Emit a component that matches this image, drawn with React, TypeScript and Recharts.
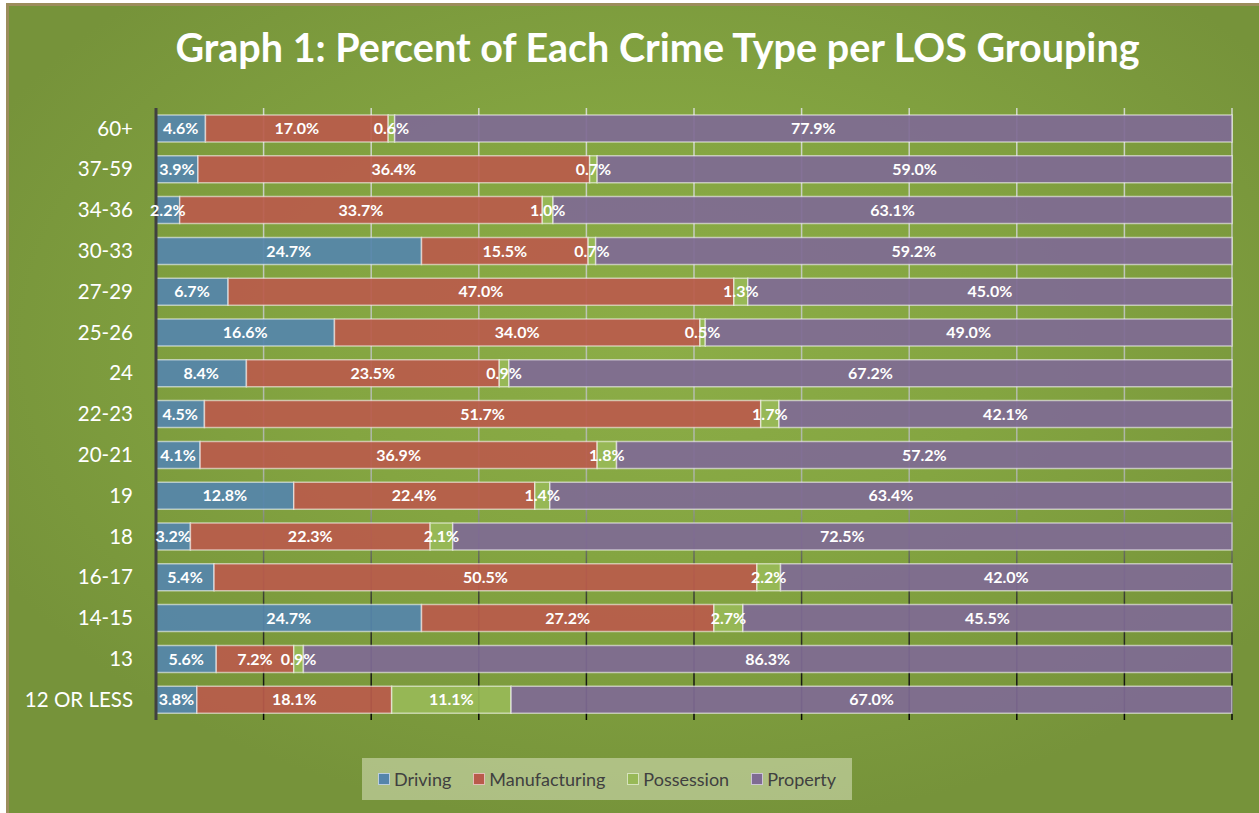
import { BarChart, Bar, XAxis, YAxis, CartesianGrid, Legend, LabelList } from "recharts";

const categories = ["60+", "37-59", "34-36", "30-33", "27-29", "25-26", "24", "22-23", "20-21", "19", "18", "16-17", "14-15", "13", "12 OR LESS"];
const driving = [4.6, 3.9, 2.2, 24.7, 6.7, 16.6, 8.4, 4.5, 4.1, 12.8, 3.2, 5.4, 24.7, 5.6, 3.8];
const manufacturing = [17.0, 36.4, 33.7, 15.5, 47.0, 34.0, 23.5, 51.7, 36.9, 22.4, 22.3, 50.5, 27.2, 7.2, 18.1];
const possession = [0.6, 0.7, 1.0, 0.7, 1.3, 0.5, 0.9, 1.7, 1.8, 1.4, 2.1, 2.2, 2.7, 0.9, 11.1];
const property = [77.9, 59.0, 63.1, 59.2, 45.0, 49.0, 67.2, 42.1, 57.2, 63.4, 72.5, 42.0, 45.5, 86.3, 67.0];
const xTicks = [0, 0.1, 0.2, 0.3, 0.4, 0.5, 0.6, 0.7, 0.8, 0.9, 1];

const series = [
    { key: "driving", name: "Driving", color: "#5585ab" },
    { key: "manufacturing", name: "Manufacturing", color: "#b95b4b" },
    { key: "possession", name: "Possession", color: "#98b957" },
    { key: "property", name: "Property", color: "#7f6b93" },
];

const data = categories.map((c, i) => ({
    cat: c,
    driving: driving[i],
    manufacturing: manufacturing[i],
    possession: possession[i],
    property: property[i],
}));

const FONT = "Lato, 'Open Sans', sans-serif";

const renderLabel = (props: any) => {
    const { x, y, width, height, value } = props;
    return (
        <text
            x={x + width / 2}
            y={y + height / 2}
            dy="0.36em"
            textAnchor="middle"
            fill="#ffffff"
            fontSize={16}
            fontWeight={700}
            fontFamily={FONT}
        >
            {Number(value).toFixed(1)}%
        </text>
    );
};

// grid lines at each 10% tick, placed through the x scale (or the plot offset as fallback)
const gridX = (props: any) => {
    const { xAxis, offset } = props;
    if (xAxis && typeof xAxis.scale === "function") {
        return xTicks.map((t) => xAxis.scale(t));
    }
    return xTicks.map((t) => offset.left + t * offset.width);
};

const renderLegend = () => (
    <div
        style={{
            width: 490,
            height: 42,
            background: "rgba(235,240,215,0.47)",
            display: "flex",
            alignItems: "center",
            justifyContent: "center",
            gap: 22,
            fontFamily: FONT,
            fontSize: 18,
            color: "#404040",
        }}
    >
        {series.map((s) => (
            <div key={s.key} style={{ display: "flex", alignItems: "center" }}>
                <span
                    style={{
                        display: "inline-block",
                        width: 10,
                        height: 10,
                        background: s.color,
                        border: "1px solid rgba(255,255,255,0.6)",
                        marginRight: 4,
                    }}
                />
                {s.name}
            </div>
        ))}
    </div>
);

export default function App() {
    return (
        <div
            style={{
                position: "fixed",
                left: 0,
                top: 0,
                width: 1259,
                height: 813,
                background: "#ffffff",
                overflow: "hidden",
            }}
        >
            <div
                style={{
                    position: "absolute",
                    left: 6,
                    top: 3,
                    width: 1253,
                    height: 810,
                    boxSizing: "border-box",
                    borderLeft: "3px solid #9c8d5c",
                    borderTop: "3px solid #9c8d5c",
                    background: "radial-gradient(ellipse 60% 60% at 52% 42%, #8cad47 0%, #84a541 45%, #76933a 100%)",
                }}
            />
            <div
                style={{
                    position: "absolute",
                    left: 0,
                    top: 22,
                    width: 1315,
                    textAlign: "center",
                    color: "#ffffff",
                    fontFamily: FONT,
                    fontWeight: 700,
                    fontSize: 39.5,
                    lineHeight: "50px",
                }}
            >
                Graph 1: Percent of Each Crime Type per LOS Grouping
            </div>
            <div style={{ position: "absolute", left: 0, top: 0 }}>
                <BarChart
                    width={1259}
                    height={813}
                    data={data}
                    layout="vertical"
                    stackOffset="expand"
                    margin={{ top: 108, right: 27, bottom: 51, left: 0 }}
                >
                    <defs>
                        <linearGradient id="gridGrad" gradientUnits="userSpaceOnUse" x1="0" y1="108" x2="0" y2="720">
                            <stop offset="0%" stopColor="#e6e6ee" stopOpacity={0.8} />
                            <stop offset="60%" stopColor="#b8b8c4" stopOpacity={0.75} />
                            <stop offset="80%" stopColor="#303030" stopOpacity={0.85} />
                            <stop offset="100%" stopColor="#000000" stopOpacity={0.95} />
                        </linearGradient>
                    </defs>
                    <CartesianGrid
                        horizontal={false}
                        stroke="url(#gridGrad)"
                        strokeWidth={1.5}
                        verticalCoordinatesGenerator={gridX}
                    />
                    <XAxis
                        type="number"
                        domain={[0, 1]}
                        ticks={xTicks}
                        interval={0}
                        height={0}
                        axisLine={false}
                        tickLine={false}
                        tick={false}
                    />
                    <YAxis
                        type="category"
                        dataKey="cat"
                        width={156}
                        tickSize={0}
                        tickMargin={23}
                        axisLine={{ stroke: "#404040", strokeWidth: 3 }}
                        tickLine={false}
                        tick={{ fill: "#ffffff", fontSize: 20.5, fontFamily: FONT }}
                        interval={0}
                    />
                    <Legend
                        content={renderLegend}
                        wrapperStyle={{ left: 362, top: 758, width: 490, height: 42 }}
                    />
                    {series.map((s) => (
                        <Bar
                            key={s.key}
                            dataKey={s.key}
                            name={s.name}
                            stackId="a"
                            fill={s.color}
                            fillOpacity={0.93}
                            stroke="rgba(255,255,255,0.55)"
                            strokeWidth={1.5}
                            barSize={27}
                            isAnimationActive={false}
                        >
                            <LabelList dataKey={s.key} content={renderLabel} />
                        </Bar>
                    ))}
                </BarChart>
            </div>
        </div>
    );
}
